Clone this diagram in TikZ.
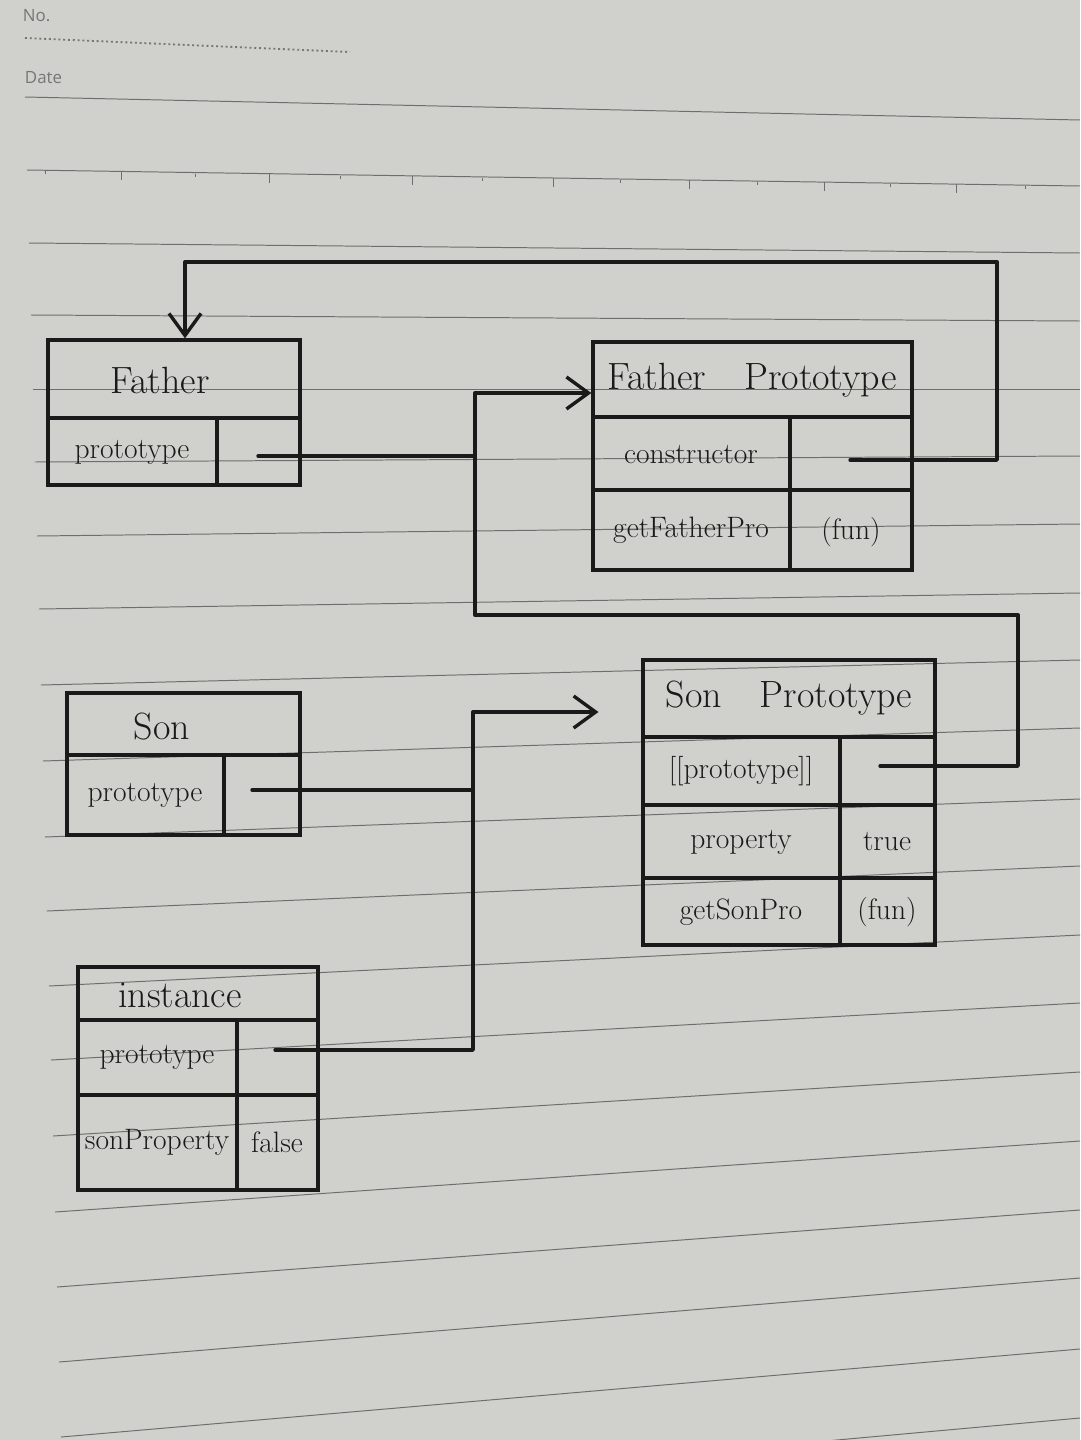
\documentclass[tikz,border=0pt]{standalone}
\usepackage{fontspec}
\setsansfont{Open Sans}
\usetikzlibrary{arrows.meta,fit}
\definecolor{paper}{RGB}{208,208,204}
\definecolor{ruleclr}{RGB}{110,110,110}
\definecolor{ink}{RGB}{26,26,26}
\definecolor{printclr}{RGB}{118,118,118}
\begin{document}
\begin{tikzpicture}[x=0.025cm,y=-0.025cm,
  boxline/.style={draw=ink,line width=2.4pt,line cap=round},
  head/.style={text=ink,font=\fontsize{27}{32}\selectfont},
  cell/.style={text=ink,font=\fontsize{21}{25}\selectfont},
  link/.style={draw=ink,line width=2.4pt,line join=round,line cap=round},
  arr/.style={link,-{Straight Barb[length=0.55cm,width=0.8cm,line width=2.4pt]}},
  ruling/.style={draw=ruleclr,line width=0.7pt},
  printed/.style={text=printclr,font=\sffamily\fontsize{12}{14}\selectfont,anchor=west}]
\useasboundingbox (0,0) rectangle (1080,1440);
\fill[paper] (0,0) rectangle (1080,1440);
\begin{scope}
\clip (0,0) rectangle (1080,1440);
% notebook ruling
\foreach \l/\r in {97/120,170/186,243/253,315/321,389/389,462/456,536/524,609/593,685/660,761/728,837/799,911/866,986/935,1060/1003,1136/1072,1212/1141,1287/1210,1362/1278,1437/1349,1510/1418}
  \draw[ruling] ({25+0.027*(\l-97)},\l) -- (1080,\r);
\foreach \x in {121,269,412,553,689,824,956}
  \draw[ruling] (\x,{170+16*(\x-25)/1055}) -- ++(0,9);
\foreach \x in {45,195,340,482,620,757,890,1025}
  \draw[ruling] (\x,{171+16*(\x-25)/1055}) -- ++(0,3);
\end{scope}
% printed header
\node[printed] (no) at (18,16) {No.};
\draw[printclr,line width=1.3pt,dash pattern=on 1.4pt off 2pt] (25,38) -- (350,52);
\node[printed] (date) at (20,78) {Date};

% ---------- Father ----------
\coordinate (F1) at (48,340); \coordinate (F2) at (300,485);
\node[boxline,inner sep=0pt,fit=(F1)(F2)] (Father) {};
\draw[boxline] (48,418) -- (300,418) (217,418) -- (217,485);
\node[head] (tFather) at (160,380) {Father};
\node[cell] (tFproto) at (132,452) {prototype};

% ---------- Father Prototype ----------
\coordinate (P1) at (593,342); \coordinate (P2) at (912,570);
\node[boxline,inner sep=0pt,fit=(P1)(P2)] (FatherProto) {};
\draw[boxline] (593,417) -- (912,417) (593,490) -- (912,490) (790,417) -- (790,570);
\node[head] (tFP) at (752,380) {Father\quad Prototype};
\node[cell] (tCons) at (691,455) {constructor};
\node[cell] (tGetF) at (691,530) {getFatherPro};
\node[cell] (tFunF) at (851,532) {(fun)};

% ---------- Son ----------
\coordinate (S1) at (67,693); \coordinate (S2) at (300,835);
\node[boxline,inner sep=0pt,fit=(S1)(S2)] (Son) {};
\draw[boxline] (67,755) -- (300,755) (224,755) -- (224,835);
\node[head] (tSon) at (162,727) {Son};
\node[cell] (tSproto) at (145,795) {prototype};

% ---------- Son Prototype ----------
\coordinate (Q1) at (643,660); \coordinate (Q2) at (935,945);
\node[boxline,inner sep=0pt,fit=(Q1)(Q2)] (SonProto) {};
\draw[boxline] (643,737) -- (935,737) (643,805) -- (935,805) (643,878) -- (935,878) (840,737) -- (840,945);
\node[head] (tSP) at (789,698) {Son\quad Prototype};
\node[cell] (tSPproto) at (741,771) {[[prototype]]};
\node[cell] (tProp) at (741,842) {property};
\node[cell] (tGetS) at (741,912) {getSonPro};
\node[cell] (tTrue) at (887,842) {true};
\node[cell] (tFunS) at (887,912) {(fun)};

% ---------- instance ----------
\coordinate (I1) at (78,967); \coordinate (I2) at (318,1190);
\node[boxline,inner sep=0pt,fit=(I1)(I2)] (Inst) {};
\draw[boxline] (78,1020) -- (318,1020) (78,1095) -- (318,1095) (237,1020) -- (237,1190);
\node[head] (tInst) at (180,995) {instance};
\node[cell] (tIproto) at (157,1057) {prototype};
\node[cell] (tSonProp) at (157,1142) {sonProperty};
\node[cell] (tFalse) at (277,1142) {false};

% ---------- connectors ----------
% Father.prototype and SonProto.[[prototype]] -> Father Prototype
\coordinate (fdot) at (258,456);
\coordinate (tTop) at (475,393);
\coordinate (tBot) at (475,615);
\coordinate (rTop) at (1018,615);
\coordinate (rBot) at (1018,766);
\coordinate (spdot) at (880,766);
\draw[link] (fdot) -- (fdot -| tTop);
\draw[arr] (spdot) -- (rBot) -- (rTop) -- (tBot) -- (tTop) -- (tTop -| FatherProto.west);

% Father Prototype.constructor -> Father
\coordinate (cdot) at (850,460);
\coordinate (c1) at (997,460);
\coordinate (c2) at (997,262);
\coordinate (c3) at (185,262);
\draw[arr] (cdot) -- (c1) -- (c2) -- (c3) -- (c3 |- Father.north);

% Son.prototype and instance.prototype -> Son Prototype
\coordinate (sdot) at (252,790);
\coordinate (idot) at (275,1050);
\coordinate (u1) at (473,1050);
\coordinate (u2) at (473,712);
\draw[link] (sdot) -- (sdot -| u2);
\draw[arr,shorten >=1.07cm] (idot) -- (u1) -- (u2) -- (u2 -| SonProto.west);
\end{tikzpicture}
\end{document}
